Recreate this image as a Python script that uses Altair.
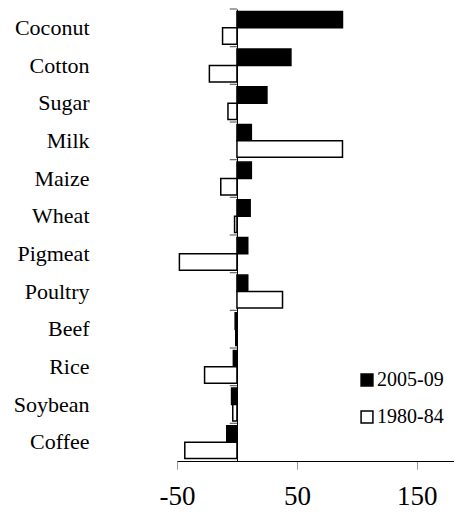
import altair as alt
import pandas as pd

crops = ["Coconut", "Cotton", "Sugar", "Milk", "Maize", "Wheat", "Pigmeat",
         "Poultry", "Beef", "Rice", "Soybean", "Coffee"]
v2005 = [88, 45, 25, 12, 12, 11, 9, 9, -1.5, -3, -4.5, -8.5]
v1980 = [-12, -23, -7.5, 88, -13.5, -2, -48, 38, -1, -27, -3.5, -43.5]
periods = ["2005-09", "1980-84"]
x_ticks = [-50, 50, 150]

rows = []
for c, a, b in zip(crops, v2005, v1980):
    rows.append({"crop": c, "period": periods[0], "value": a})
    rows.append({"crop": c, "period": periods[1], "value": b})
df = pd.DataFrame(rows)
ticks_df = pd.DataFrame({"crop": crops})

FONT = "Liberation Serif"

x_scale = alt.Scale(domain=[-50, 181], nice=False, zero=False)
y_scale = alt.Scale(paddingInner=0, paddingOuter=0)

bars = alt.Chart(df).mark_bar(stroke="black", strokeWidth=1.5).encode(
    x=alt.X("value:Q", scale=x_scale,
            axis=alt.Axis(title=None, values=x_ticks, grid=False, tickSize=8,
                          tickColor="#999999", domainColor="black",
                          labelFont=FONT, labelFontSize=27, labelColor="black",
                          labelPadding=14, labelFlush=False,
                          labelExpr="'' + datum.value")),
    y=alt.Y("crop:N", sort=crops, scale=y_scale,
            axis=alt.Axis(title=None, offset=-60, ticks=False,
                          domainColor="black",
                          labelPadding=148, labelFont=FONT, labelFontSize=22,
                          labelColor="black")),
    yOffset=alt.YOffset("period:N", sort=periods,
                        scale=alt.Scale(paddingOuter=0.15, paddingInner=0)),
    fill=alt.Fill("period:N", sort=periods,
                  scale=alt.Scale(domain=periods, range=["black", "white"]),
                  legend=alt.Legend(orient="none", legendX=180, legendY=361, title=None,
                                    symbolType="square", symbolSize=140,
                                    symbolStrokeColor="black", symbolStrokeWidth=1.5,
                                    labelFont=FONT, labelFontSize=20, labelColor="black",
                                    rowPadding=17, labelOffset=0)),
)

band_ticks = alt.Chart(ticks_df).mark_rule(color="#666666", strokeWidth=1.2).encode(
    y=alt.Y("crop:N", sort=crops, bandPosition=0),
    x=alt.datum(-6),
    x2=alt.datum(0),
)

chart = alt.layer(band_ticks, bars).properties(
    width=277, height=452,
    padding={"top": 0, "bottom": 0, "left": 5, "right": 0},
).configure_view(stroke=None)

chart.save("out.html", embed_options={"renderer": "svg", "actions": False})
